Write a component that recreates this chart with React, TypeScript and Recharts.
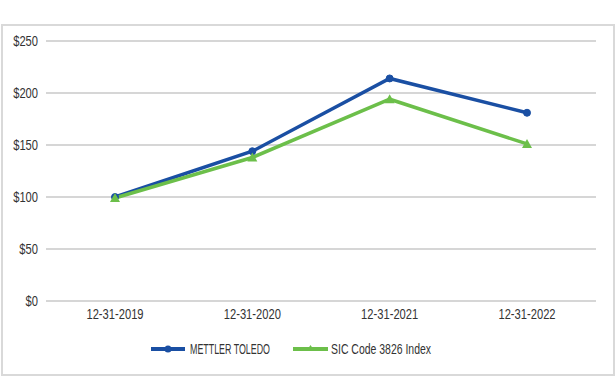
import { LineChart, Line, XAxis, YAxis, CartesianGrid } from "recharts"

const dates = ["12-31-2019", "12-31-2020", "12-31-2021", "12-31-2022"]
const mettler = [100, 144, 214, 181]
const sic3826 = [99, 138, 194, 151]
const yTicks = [0, 50, 100, 150, 200, 250]

const data = dates.map((d, i) => ({ name: d, mettler: mettler[i], sic: sic3826[i] }))

const BLUE = "#1a4fa3"
const GREEN = "#6cbf4a"
const TEXT = "#333"
const FONT = "'Liberation Sans', sans-serif"
const SIZE = 14.5
const SQUEEZE = 0.77

const Triangle = (props: any) => {
  const { cx, cy } = props
  if (cx == null || cy == null) return null
  const s = 5
  return <path d={`M${cx},${cy - s} L${cx + s},${cy + s * 0.8} L${cx - s},${cy + s * 0.8} Z`} fill={GREEN} />
}

// narrow text: the reference uses a condensed face
const NarrowTick = (props: any) => {
  const { x, y, payload, textAnchor, dy, formatter } = props
  const label = formatter ? formatter(payload.value) : payload.value
  return (
    <g transform={`translate(${x},${y})`}>
      <text
        transform={`scale(${SQUEEZE},1)`}
        textAnchor={textAnchor}
        dy={dy}
        fill={TEXT}
        fontSize={SIZE}
        fontFamily={FONT}
      >
        {label}
      </text>
    </g>
  )
}

const ChartLegend = () => (
  <svg width={615} height={20} style={{ position: "absolute", left: 0, top: 339 }}>
    <line x1={151} y1={10} x2={185} y2={10} stroke={BLUE} strokeWidth={4} />
    <circle cx={168} cy={10} r={3.5} fill={BLUE} />
    <text x={190} y={15} textLength={80} lengthAdjust="spacingAndGlyphs" fill={TEXT} fontSize={SIZE} fontFamily={FONT}>
      METTLER TOLEDO
    </text>
    <line x1={293} y1={10} x2={328} y2={10} stroke={GREEN} strokeWidth={4} />
    <path d="M310.5,6 L314.5,12 L306.5,12 Z" fill={GREEN} />
    <text x={331} y={15} textLength={100} lengthAdjust="spacingAndGlyphs" fill={TEXT} fontSize={SIZE} fontFamily={FONT}>
      SIC Code 3826 Index
    </text>
  </svg>
)

export default function App() {
  return (
    <div style={{ position: "absolute", left: 0, top: 0, width: 615, height: 376, background: "#fff" }}>
      <div
        style={{
          position: "absolute",
          left: 1,
          top: 24,
          width: 610,
          height: 348,
          border: "2px solid #d9d9d9",
        }}
      />
      <div style={{ position: "absolute", left: 0, top: 0 }}>
        <LineChart width={615} height={376} data={data} margin={{ top: 41, right: 19, left: 0, bottom: 45 }}>
          <CartesianGrid vertical={false} stroke="#d6d6d6" strokeWidth={2} />
          <XAxis
            dataKey="name"
            axisLine={false}
            tickLine={false}
            padding={{ left: 69, right: 69 }}
            tick={<NarrowTick textAnchor="middle" dy="0.71em" />}
          />
          <YAxis
            width={46}
            domain={[0, 250]}
            ticks={yTicks}
            axisLine={false}
            tickLine={false}
            tick={<NarrowTick textAnchor="end" dy="0.355em" formatter={(v: number) => `$${v}`} />}
          />
          <Line
            dataKey="mettler"
            stroke={BLUE}
            strokeWidth={3.5}
            dot={{ r: 3.5, fill: BLUE, stroke: BLUE, strokeWidth: 1 }}
            isAnimationActive={false}
          />
          <Line
            dataKey="sic"
            stroke={GREEN}
            strokeWidth={3.5}
            dot={<Triangle />}
            isAnimationActive={false}
          />
        </LineChart>
      </div>
      <ChartLegend />
    </div>
  )
}
